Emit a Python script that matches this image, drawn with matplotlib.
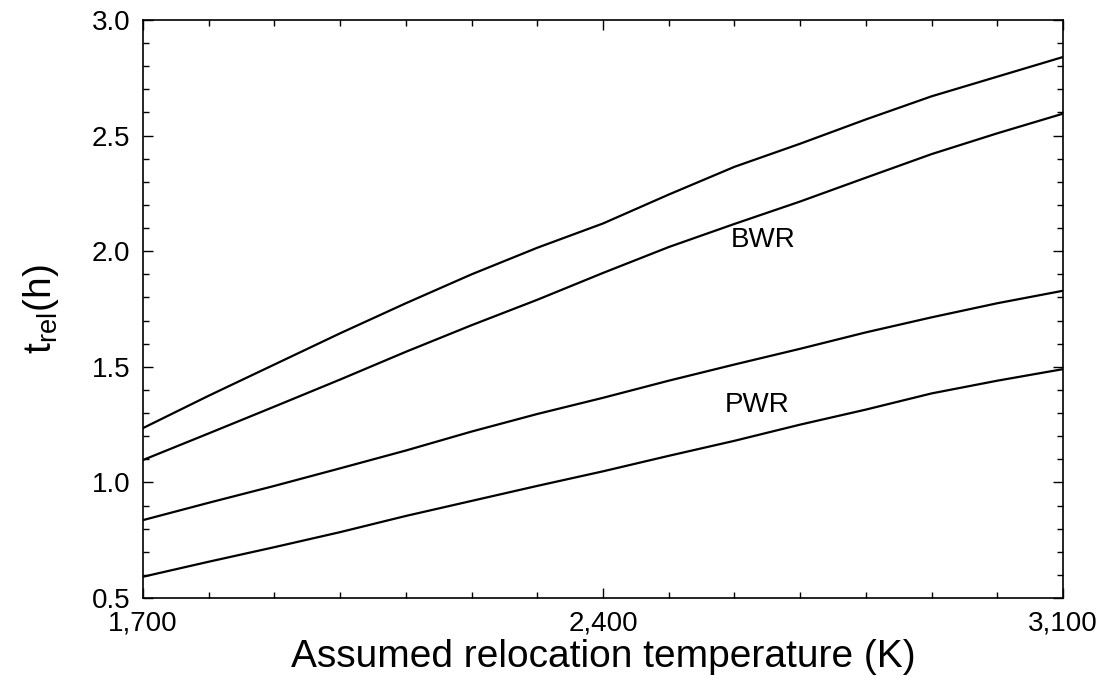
import matplotlib
matplotlib.use("Agg")
import matplotlib.pyplot as plt
from matplotlib.ticker import MultipleLocator, FixedLocator

plt.rcParams['font.family'] = ['Liberation Sans', 'DejaVu Sans']
plt.rcParams['mathtext.fontset'] = 'custom'
plt.rcParams['mathtext.rm'] = 'Liberation Sans'

# relocation temperature (K)
temperature = [1700, 1800, 1900, 2000, 2100, 2200, 2300, 2400,
               2500, 2600, 2700, 2800, 2900, 3000, 3100]

# time to relocation (h)
bwr_upper = [1.235, 1.375, 1.51, 1.645, 1.775, 1.90, 2.015, 2.12,
             2.245, 2.365, 2.465, 2.57, 2.67, 2.755, 2.84]
bwr_lower = [1.097, 1.212, 1.328, 1.445, 1.565, 1.68, 1.79, 1.906,
             2.018, 2.118, 2.215, 2.318, 2.42, 2.51, 2.595]
pwr_upper = [0.837, 0.912, 0.985, 1.061, 1.138, 1.22, 1.296, 1.366,
             1.44, 1.51, 1.578, 1.649, 1.714, 1.775, 1.829]
pwr_lower = [0.592, 0.657, 0.72, 0.785, 0.855, 0.92, 0.985, 1.048,
             1.115, 1.18, 1.25, 1.315, 1.385, 1.44, 1.49]

x_ticks = [1700, 2400, 3100]
x_tick_labels = ["1,700", "2,400", "3,100"]

fig = plt.figure(figsize=(11, 6.97), dpi=100)
ax = fig.add_axes([0.130, 0.142, 0.8364, 0.8293])

for series in (bwr_upper, bwr_lower, pwr_upper, pwr_lower):
    ax.plot(temperature, series, color='black', linewidth=1.6)

ax.text(2643, 2.048, "BWR", fontsize=20, ha='center', va='center')
ax.text(2635, 1.335, "PWR", fontsize=20, ha='center', va='center')

ax.set_xlim(1700, 3100)
ax.set_ylim(0.5, 3.0)
ax.xaxis.set_major_locator(FixedLocator(x_ticks))
ax.set_xticklabels(x_tick_labels)
ax.xaxis.set_minor_locator(MultipleLocator(100))
ax.yaxis.set_major_locator(MultipleLocator(0.5))
ax.yaxis.set_minor_locator(MultipleLocator(0.1))
ax.yaxis.set_major_formatter(matplotlib.ticker.FormatStrFormatter('%.1f'))

ax.tick_params(which='both', direction='in', top=True, right=True,
               labelsize=20, width=1.0)
ax.tick_params(which='major', length=7, pad=9)
ax.tick_params(which='minor', length=4)
for s in ax.spines.values():
    s.set_linewidth(1.2)

ax.set_xlabel("Assumed relocation temperature (K)", fontsize=28, labelpad=2)
ax.set_ylabel(r"$\mathrm{t}_{\mathrm{rel}}\mathrm{(h)}$", fontsize=28, labelpad=22)

fig.savefig("out.png", dpi=100)
